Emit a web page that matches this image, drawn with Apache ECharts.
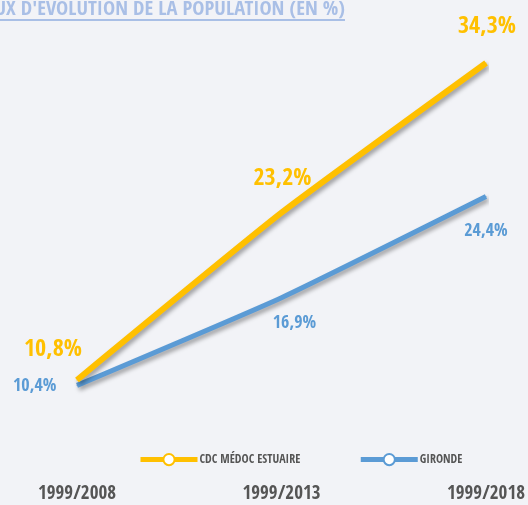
<!DOCTYPE html>
<html><head><meta charset="utf-8">
<script src="https://cdn.jsdelivr.net/npm/echarts@6/dist/echarts.min.js"></script>
<style>html,body{margin:0;padding:0;background:#f2f3f7}#c{width:528px;height:505px}</style>
</head><body><div id="c"></div>
<script>
const categories = ['1999/2008', '1999/2013', '1999/2018'];
const cdcValues = [10.8, 23.2, 34.3];
const girondeValues = [10.4, 16.9, 24.4];
const seriesNames = ['CDC MÉDOC ESTUAIRE', 'GIRONDE'];
const titleText = "TAUX D'ÉVOLUTION DE LA POPULATION (EN %)";

const F = '"Open Sans Condensed", "Roboto Condensed", sans-serif';
const fmt = p => p.value.toFixed(1).replace('.', ',') + '%';
const yellow = '#ffc000', blue = '#5b9bd5';

const chart = echarts.init(document.getElementById('c'));
const cdcLabelPos = [{offset:[-24,-13]},{offset:[1,-16]},{offset:[1,-19]}];
const girLabelPos = [{position:'left',offset:[-15,1]},{position:'bottom',offset:[13,11]},{position:'bottom',offset:[0,20]}];
chart.setOption({
  backgroundColor: '#f2f3f7',
  graphic: [
    {type:'text', right: 183, top: -1, style:{text: titleText, fill:'#a9bfe6', font: 'bold 20.5px ' + F}},
    {type:'rect', left: 0, top: 19, shape:{width:345, height:2}, style:{fill:'#a9bfe6'}}
  ],
  grid: {left: 77, right: 38, top: 53.5, bottom: 46.8},
  legend: {
    top: 448, left: 133, itemGap: 58, itemWidth: 57, itemHeight: 14,
    textStyle: {fontFamily: F, fontWeight: 'bold', fontSize: 12, color: '#555', padding: [0,0,0,-3]},
    lineStyle: {width: 5, shadowBlur: 0, shadowOffsetX: 0, shadowOffsetY: 0},
    data: seriesNames
  },
  xAxis: {
    type: 'category', data: categories, boundaryGap: false,
    axisLine: {show: false}, axisTick: {show: false}, splitLine:{show:false},
    axisLabel: {margin: 26, fontFamily: F, fontWeight: 'bold', fontSize: 19, color: '#555'}
  },
  yAxis: {type: 'value', min: 5, max: 35, show: false, splitLine: {show: false}},
  series: [
    {
      name: seriesNames[0], type: 'line', smooth: 0.15, symbol: 'circle', symbolSize: 10,
      data: cdcValues.map((v,i) => ({value: v, label: cdcLabelPos[i], symbolSize: 1, itemStyle: {color: yellow, borderWidth: 0}})),
      itemStyle: {color: '#ffffff', borderColor: yellow, borderWidth: 3},
      lineStyle: {width: 6, color: yellow, shadowColor: 'rgba(0,0,0,0.35)', shadowBlur: 4, shadowOffsetX: 2, shadowOffsetY: 3},
      label: {show: true, position: 'top', formatter: fmt, fontFamily: F, fontWeight: 'bold', fontSize: 24, color: yellow},
      emphasis: {disabled: true},
      z: 3
    },
    {
      name: seriesNames[1], type: 'line', smooth: 0.15, symbol: 'circle', symbolSize: 10,
      data: girondeValues.map((v,i) => ({value: v, label: girLabelPos[i], symbolSize: 1, itemStyle: {color: blue, borderWidth: 0}})),
      itemStyle: {color: '#ffffff', borderColor: blue, borderWidth: 3},
      lineStyle: {width: 5, color: blue, shadowColor: 'rgba(0,0,0,0.35)', shadowBlur: 4, shadowOffsetX: 2, shadowOffsetY: 3},
      label: {show: true, formatter: fmt, fontFamily: F, fontWeight: 'bold', fontSize: 18, color: blue},
      emphasis: {disabled: true},
      z: 2
    }
  ]
});
</script></body></html>
